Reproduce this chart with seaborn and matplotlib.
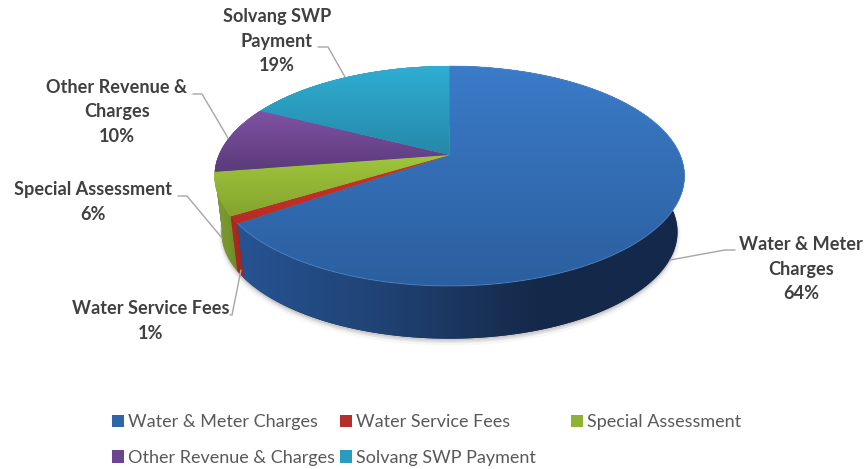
import numpy as np
import seaborn as sns
import matplotlib.pyplot as plt
from matplotlib.lines import Line2D
from matplotlib.patches import Patch, Polygon
from matplotlib.path import Path
from matplotlib.transforms import Affine2D, Transform

categories = ["Water & Meter Charges", "Water Service Fees", "Special Assessment",
              "Other Revenue & Charges", "Solvang SWP Payment"]
percents = [64, 1, 6, 10, 19]
label_names = ["Water & Meter\nCharges", "Water Service Fees", "Special Assessment",
               "Other Revenue &\nCharges", "Solvang SWP\nPayment"]

face_colors = [["#3b7bc8", "#2b5f9f"], ["#c8352c", "#b82c24"], ["#a0c63c", "#84a42e"],
               ["#7f52a4", "#5a3b7a"], ["#2fadd2", "#2589a8"]]
side_colors = [["#265392", "#1f4272", "#15294a", "#13284a"], ["#a82c22", "#a02820"],
               ["#82a232", "#6c8c2a"], ["#5a3b7a", "#5a3b7a"], ["#2589a8", "#2589a8"]]
legend_colors = ["#2f66a8", "#b5302a", "#8fb234", "#6b4690", "#2a9cc0"]

# layout in pixels of the reference
label_pos = [(801, 269), (151, 321), (93, 202), (117, 112), (277, 41)]
leaders = [[(735, 250), (725, 250), (670, 260)],
           [(230, 315), (232, 315), (241, 270)],
           [(178, 196), (187, 196), (222, 238)],
           [(193, 94), (202, 94), (228, 138)],
           [(318, 47), (328, 47), (345, 77)]]


class TiltedPie(Transform):
    """Unit circle to the tilted top of the pie, in pixels."""
    input_dims = 2
    output_dims = 2
    is_separable = False

    def transform_non_affine(self, xy):
        xy = np.asarray(xy, dtype=float)
        r = np.hypot(xy[:, 0], xy[:, 1])
        ang = np.arctan2(xy[:, 0], xy[:, 1])
        ang = ang - 0.1 * np.sin(ang)
        x, y = r * np.sin(ang), r * np.cos(ang)
        w = 1 + 0.1909 * y
        return np.column_stack([449.5 + 230.7 * x / w, (155 - 76.4 * y) / w])

    def transform_path_non_affine(self, path):
        # flatten the curves at a big scale first so the arc stays smooth
        big = path.transformed(Affine2D().scale(500))
        poly = big.to_polygons(closed_only=False)[0] / 500
        return Path(self.transform_non_affine(poly))


def gradient(ax, colors, box, clip, vertical, zorder):
    x0, x1, y0, y1 = box
    pal = np.array(sns.blend_palette(colors, 64))
    arr = pal[:, None, :] if vertical else pal[None, :, :]
    img = ax.imshow(arr, extent=(x0, x1, y1, y0), aspect="auto", zorder=zorder,
                    interpolation="bilinear")
    img.set_clip_path(clip)


sns.set_theme(style="white")
plt.rcParams["font.family"] = ["Lato", "DejaVu Sans"]

fig = plt.figure(figsize=(8.67, 4.69), dpi=100)
ax = fig.add_axes([0, 0, 1, 1])

wedges, _ = ax.pie(percents, startangle=90, counterclock=False,
                   colors=[c[0] for c in face_colors])
ax.set_aspect("auto")
ax.set_xlim(0, 867)
ax.set_ylim(469, 0)
ax.set_autoscale_on(False)

tilt = TiltedPie()
to_pixels = tilt + ax.transData

# side wall: bottom rim is the top rim pulled down and a little smaller
sink, shrink, mid_y = 56, 0.97, 176


def rim(t1, t2):
    t = np.radians(np.linspace(t1, t2, 240))
    return tilt.transform_non_affine(np.column_stack([np.cos(t), np.sin(t)]))


def lower(pts):
    return np.column_stack([449.5 + shrink * (pts[:, 0] - 449.5),
                            mid_y + shrink * (pts[:, 1] - mid_y) + sink])


# soft shadow under the pie
for grow, alpha in [(4, 0.05), (2.5, 0.07), (1, 0.1)]:
    s = lower(rim(0, 360))
    ax.fill(s[:, 0], s[:, 1] + grow, color="#555555", alpha=alpha, lw=grow, zorder=1)

# back slices first so the front ones cover them
for i in [4, 3, 2, 1, 0]:
    w = wedges[i]
    top = rim(w.theta1, w.theta2)
    low = lower(top)
    outline = np.vstack([top, low[::-1]])
    side = Polygon(outline, closed=True, facecolor=side_colors[i][-1], edgecolor="none",
                   zorder=2 + (4 - i) * 0.1)
    ax.add_patch(side)
    box = (outline[:, 0].min(), outline[:, 0].max(), outline[:, 1].min(), outline[:, 1].max())
    gradient(ax, side_colors[i], box, side, False, 2.05 + (4 - i) * 0.1)

for i, w in enumerate(wedges):
    w.set_transform(to_pixels)
    w.set_zorder(3)
    w.set_edgecolor("none")
    pts = to_pixels.transform_path_non_affine(w.get_path()).vertices
    box = (pts[:, 0].min(), pts[:, 0].max(), pts[:, 1].min(), pts[:, 1].max())
    gradient(ax, face_colors[i], box, w, True, 3.1 + i * 0.01)

# light edge on the front rim of the big slice
front = rim(wedges[0].theta1, wedges[0].theta2)
ax.plot(front[:, 0], front[:, 1], color="#5b93d3", lw=0.7, alpha=0.55, zorder=4)

for name, pct, pos, line in zip(label_names, percents, label_pos, leaders):
    ax.text(pos[0], pos[1], f"{name}\n{pct}%", ha="center", va="center", fontsize=13.1,
            fontweight="bold", color="#404040", linespacing=1.53, zorder=6)
    ax.add_line(Line2D(*zip(*line), color="#a6a6a6", lw=1, zorder=5))


def add_legend(idx, x, ncol):
    handles = [Patch(facecolor=legend_colors[i], edgecolor="none") for i in idx]
    return ax.legend(handles, [categories[i] for i in idx], ncol=ncol, frameon=False,
                     loc="upper left", bbox_to_anchor=(x, 414), bbox_transform=ax.transData,
                     fontsize=12.95, handlelength=0.66, handleheight=0.66, handletextpad=0.22,
                     columnspacing=0.3, labelspacing=1.1, borderpad=0, borderaxespad=0,
                     labelcolor="#595959")


# third column sits further out than the even spacing would put it
ax.add_artist(add_legend([0, 3, 1, 4], 112, 2))
add_legend([2], 571, 1)

fig.savefig("out.png", dpi=100, facecolor="white")
